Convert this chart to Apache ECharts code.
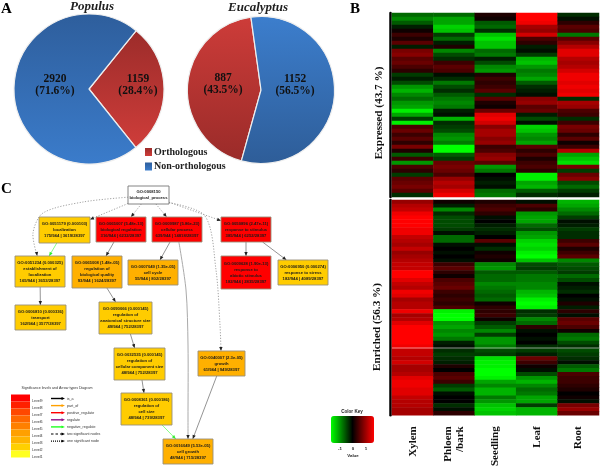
<!DOCTYPE html>
<html>
<head>
<meta charset="utf-8">
<style>html,body{margin:0;padding:0;background:#fff}#main{width:600px;height:469px}</style>
<script src="https://cdn.jsdelivr.net/npm/echarts@6/dist/echarts.min.js"></script>
</head>
<body>
<div id="main"></div>
<script>
// panel A
const pieNames = ["Orthologous", "Non-orthologous"];
const populusValues = [1159, 2920];
const eucalyptusValues = [887, 1152];

// panel B, one list per tissue, top row first
const tissues = ["Xylem", "Phloem\n/bark", "Seedling", "Leaf", "Root"];
const expressedXylem = [-0.7,-0.9,-0.6,-0.2,0.1,0.4,0.2,0.6,-0.2,0.8,0.9,0.6,0.7,0.5,0.3,-0.4,-0.2,-0.5,-1.0,-1.2,-0.9,-0.7,-1.0,-1.1,-1.6,-1.1,-0.4,-1.6,0.5,0.7,0.4,0.6,0.3,0.8,0.2,-0.6,0.4,-1.0,0.5,0.3,-0.4,0.6,0.7,0.8,0.6,-0.3];
const expressedPhloem = [-0.7,-1.1,-1.1,-1.4,-1.3,-0.4,-0.7,-0.2,0.2,-0.9,-0.5,-0.3,0.4,0.6,0.5,-0.1,-0.3,-0.8,-0.5,-0.3,-0.6,-0.8,-0.9,-0.8,-0.2,-0.1,-1.2,-0.3,-0.4,-0.5,-0.9,-1.0,-0.8,-1.7,-1.7,-0.6,-0.4,0.7,0.8,0.7,0.5,1.0,1.2,1.1,1.4,1.6];
const expressedSeedling = [0.2,0.1,-0.6,-0.7,-0.3,-1.3,-1.5,-1.3,-1.3,-0.7,-0.8,-0.2,-0.5,-0.9,-1.0,0.2,0.4,0.3,0.4,0.6,-0.3,0.6,0.2,0.1,0.7,1.5,1.6,1.4,0.9,1.1,1.1,0.9,1.0,0.4,0.5,0.9,1.0,0.6,-1.0,-0.8,0.0,-0.1,-0.2,-0.1,-0.7,-0.8];
const expressedLeaf = [1.7,1.7,1.6,1.1,1.0,1.4,0.5,0.3,-0.2,-0.1,-0.4,-1.2,-1.3,-1.0,-0.8,-0.9,-1.1,-0.6,-0.3,-0.2,-0.1,0.9,1.0,0.6,0.7,-0.2,-0.5,-0.1,-1.4,-1.3,-1.0,-0.9,-1.1,0.6,0.3,0.5,0.2,0.4,0.5,0.3,-1.6,-1.6,-1.1,-1.2,-0.6,-0.3];
const expressedRoot = [-0.3,-0.1,0.3,0.6,0.5,-0.8,0.6,0.9,1.2,1.5,1.5,1.2,1.1,1.2,1.4,1.6,1.6,1.5,1.6,1.5,1.6,-0.3,1.1,1.0,0.5,0.4,-0.3,0.4,0.8,0.7,0.3,0.6,0.1,0.4,1.2,-1.1,-1.3,-1.5,0.8,-0.4,0.7,0.9,-0.5,-0.7,-0.4,-0.2];

const enrichedXylem = [1.0,1.2,1.3,1.6,1.7,1.7,1.7,1.6,1.6,1.3,1.2,1.1,1.3,1.0,1.1,1.2,1.3,1.3,1.7,1.7,1.5,1.3,1.2,1.6,1.5,1.1,1.2,1.2,1.6,1.1,1.2,1.5,1.7,1.7,1.7,1.7,1.7,1.6,1.3,1.3,1.2,1.4,1.1,1.1,1.2,1.5,1.6,1.6,1.5,1.5,1.3,1.2,1.2,1.1,1.1];
const enrichedPhloem = [0.1,-0.2,-0.9,-0.3,-0.5,-0.5,-0.5,-0.4,-0.1,-0.7,-0.7,-0.1,0.0,-0.1,0.0,-0.1,0.4,0.6,0.3,0.1,0.5,0.6,0.7,0.4,0.3,0.4,0.3,0.5,-1.6,-1.7,-1.7,-1.0,-1.1,-0.9,-1.0,-0.8,-0.2,-0.1,-0.3,-0.4,-0.3,-0.2,0.2,0.0,0.5,0.6,0.4,-0.4,-0.6,-0.1,0.0,0.0,-0.3,-0.1,0.3];
const enrichedSeedling = [0.2,0.4,0.5,0.3,-0.1,0.0,-0.2,-0.3,-0.2,0.0,0.6,-0.1,-0.3,0.1,0.2,0.1,-0.9,-1.0,-0.6,-0.7,-0.7,-0.9,-0.8,-0.7,-0.6,-0.7,0.1,0.3,0.3,0.4,0.1,-0.4,-0.6,-0.9,-0.4,-1.0,-1.0,-0.8,-0.5,-0.4,-1.5,-1.6,-1.6,-1.7,-1.7,-1.6,-1.1,-0.9,-1.2,-1.2,-0.8,-1.0,-1.3,-1.4,-1.3];
const enrichedLeaf = [-0.1,0.5,0.3,-1.0,-1.1,-1.1,-0.7,-0.5,-1.0,-1.1,-1.4,-1.5,-1.4,-1.6,-1.7,-1.3,-0.5,-0.4,-0.6,-0.8,-0.8,-0.9,-0.9,-1.2,-1.3,-1.6,-1.7,-1.6,-0.3,-0.4,-0.9,-0.7,0.3,-0.1,0.0,-0.1,0.0,-0.3,-0.4,-0.2,0.7,0.4,0.1,-0.1,-0.5,-1.0,-1.2,-0.9,-0.7,-0.8,-1.1,-1.1,-0.4,-1.2,-1.2];
const enrichedRoot = [-1.2,-1.1,-0.9,-0.7,-0.4,-0.1,-0.2,-0.4,-0.3,-0.3,0.4,0.6,0.2,0.4,0.6,-0.9,-0.6,-0.5,-0.4,-0.7,-0.5,-0.1,-0.2,-0.3,0.0,-0.1,0.2,-0.2,0.3,-0.1,0.6,0.7,0.5,0.1,-0.7,-0.8,-0.5,-0.3,-0.5,-0.4,-0.3,-0.1,-0.6,-0.8,0.5,0.4,0.4,0.3,0.2,0.0,0.1,-0.1,0.8,1.0,0.7];

// panel C
const goTerms = {
  root: "GO:0008150\nbiological_process",
  localization: "GO:0051179 (0.000103)\nlocalization\n175/944 | 3619/28397",
  bioReg: "GO:0065007 (5.48e-13)\nbiological regulation\n316/944 | 6232/28397",
  cellular: "GO:0009987 (5.86e-23)\ncellular process\n639/944 | 14818/28397",
  stimulus: "GO:0050896 (2.47e-11)\nresponse to stimulus\n385/944 | 6252/28397",
  establish: "GO:0051234 (0.000325)\nestablishment of\nlocalization\n165/944 | 3653/28397",
  bioQuality: "GO:0065008 (1.48e-05)\nregulation of\nbiological quality\n93/944 | 1624/28397",
  cellCycle: "GO:0007049 (1.35e-05)\ncell cycle\n55/944 | 802/28397",
  abiotic: "GO:0009628 (1.90e-13)\nresponse to\nabiotic stimulus\n182/944 | 2835/28397",
  stress: "GO:0006950 (0.000274)\nresponse to stress\n182/944 | 4089/28397",
  transport: "GO:0006810 (0.000336)\ntransport\n162/944 | 3577/28397",
  anatomical: "GO:0090066 (0.000145)\nregulation of\nanatomical structure size\n49/944 | 752/28397",
  component: "GO:0032535 (0.000145)\nregulation of\ncellular component size\n48/944 | 752/28397",
  cellSize: "GO:0008361 (0.000186)\nregulation of\ncell size\n48/944 | 739/28397",
  growth: "GO:0040007 (2.3e-05)\ngrowth\n61/944 | 949/28397",
  cellGrowth: "GO:0016049 (5.53e-05)\ncell growth\n48/944 | 715/28397",
};
const goLinks = [
  ["root", "localization", "dotted"], ["root", "bioReg", "dotted"], ["root", "cellular", "dotted"],
  ["root", "stimulus", "dotted"], ["root", "establish", "dotted"], ["root", "growth", "dotted"],
  ["localization", "establish", "green"], ["bioReg", "bioQuality", "solid"], ["cellular", "cellCycle", "solid"],
  ["cellular", "cellGrowth", "grey"], ["stimulus", "abiotic", "solid"], ["stimulus", "stress", "solid"],
  ["establish", "transport", "solid"], ["bioQuality", "anatomical", "solid"], ["anatomical", "component", "solid"],
  ["component", "cellSize", "solid"], ["cellSize", "cellGrowth", "green"], ["growth", "cellGrowth", "solid"],
];
const levelNames = ["Level9","Level8","Level7","Level6","Level5","Level4","Level3","Level2","Level1"];
const arrowKinds = ["is_a","part_of","positive_regulate","regulate","negative_regulate","two significant nodes","one significant node"];

// layout of the diagram, in page pixels
const nodeBoxes = {
  root: [128,186,169,204], localization: [39,217,90,243], bioReg: [96,217,146,242], cellular: [152,217,202,242],
  stimulus: [221,217,271,242], establish: [15,256,65,287], bioQuality: [72,256,122,288], cellCycle: [128,260,178,285],
  abiotic: [221,256,271,289], stress: [278,260,328,285], transport: [15,305,66,330], anatomical: [99,302,152,334],
  component: [114,348,165,380], cellSize: [121,393,172,425], growth: [198,351,245,376], cellGrowth: [163,439,213,464],
};
const nodeFills = {
  root: "#fff", localization: "#ffcc00", bioReg: "#ff0000", cellular: "#ff0000", stimulus: "#ff0000",
  establish: "#ffcc00", bioQuality: "#ffb000", cellCycle: "#ffb000", abiotic: "#ff0000", stress: "#ffcc00",
  transport: "#ffcc00", anatomical: "#ffcc00", component: "#ffcc00", cellSize: "#ffcc00", growth: "#ffb000", cellGrowth: "#ffb000",
};
const linkBends = {
  "root-establish": [[83,202],[43,213],[33,233]],
  "root-growth": [[205,216],[216,270],[220,325]],
  "cellular-cellGrowth": [[186,290],[188,345],[188,420]],
};
const linkStyles = {
  dotted: { stroke: "#8a8a8a", lineWidth: 0.8, lineDash: [1.2, 1.6] },
  solid: { stroke: "#666", lineWidth: 0.7 },
  green: { stroke: "#66ff66", lineWidth: 0.8 },
  grey: { stroke: "#aaa", lineWidth: 1 },
};
const levelFills = ["#ff0000","#ff2000","#ff4800","#ff6800","#ff8000","#ffa000","#ffb400","#ffd000","#ffff20"];
const keyStyles = [
  { stroke: "#000", lineWidth: 1.4 }, { stroke: "#ffa000", lineWidth: 1.4 }, { stroke: "#ff0000", lineWidth: 1.4 },
  { stroke: "#90108c", lineWidth: 1.4 }, { stroke: "#22ff22", lineWidth: 1.4 },
  { stroke: "#000", lineWidth: 1.2, lineDash: [2.5, 2] }, { stroke: "#000", lineWidth: 1.2, lineDash: [1, 1] },
];

const SERIF = '"Liberation Serif", serif';
const SANS = '"Liberation Sans", sans-serif';

const vGrad = (top, bottom) => ({ type: "linear", x: 0, y: 0, x2: 0, y2: 1, colorStops: [{ offset: 0, color: top }, { offset: 1, color: bottom }] });

const centerOf = (b) => [(b[0] + b[2]) / 2, (b[1] + b[3]) / 2];
// where the line from a box centre towards p leaves the box
function leaveBox(b, p) {
  const c = centerOf(b), dx = p[0] - c[0], dy = p[1] - c[1];
  const t = Math.min(dx ? (b[2] - b[0]) / 2 / Math.abs(dx) : 9, dy ? (b[3] - b[1]) / 2 / Math.abs(dy) : 9);
  return [c[0] + dx * t, c[1] + dy * t];
}
function arrowHead(to, from, size, fill) {
  const a = Math.atan2(to[1] - from[1], to[0] - from[0]);
  const w = size * 0.42;
  const bx = to[0] - Math.cos(a) * size, by = to[1] - Math.sin(a) * size;
  return { type: "polygon", shape: { points: [to, [bx - Math.sin(a) * w, by + Math.cos(a) * w], [bx + Math.sin(a) * w, by - Math.cos(a) * w]] }, style: { fill } };
}

function renderLink(params, api) {
  const [from, to, kind] = goLinks[params.dataIndex];
  const bends = linkBends[from + "-" + to] || [];
  const a = nodeBoxes[from], b = nodeBoxes[to];
  const start = leaveBox(a, bends[0] || centerOf(b));
  const end = leaveBox(b, bends.length ? bends[bends.length - 1] : centerOf(a));
  const pts = [start, ...bends, end].map((p) => api.coord(p));
  const last = pts[pts.length - 2];
  return {
    type: "group",
    children: [
      { type: "polyline", shape: { points: pts, smooth: bends.length ? 0.3 : 0 }, style: { ...linkStyles[kind], fill: null } },
      arrowHead(pts[pts.length - 1], last, 4, kind === "green" ? "#33ee33" : "#222"),
    ],
  };
}

function renderNode(params, api) {
  const id = Object.keys(goTerms)[params.dataIndex];
  const b = nodeBoxes[id];
  const p0 = api.coord([b[0], b[1]]), p1 = api.coord([b[2], b[3]]);
  return {
    type: "group",
    children: [
      { type: "rect", shape: { x: p0[0], y: p0[1], width: p1[0] - p0[0], height: p1[1] - p0[1] }, style: { fill: nodeFills[id], stroke: id === "root" ? "#777" : "#99907a", lineWidth: 0.9 } },
      { type: "text", style: { text: goTerms[id], x: (p0[0] + p1[0]) / 2, y: (p0[1] + p1[1]) / 2, align: "center", verticalAlign: "middle", font: "bold 4.2px " + SANS, lineHeight: 5.9, fill: "#1a1a1a" } },
    ],
  };
}

function renderLevel(params, api) {
  const p0 = api.coord([11, 394.5 + 7 * params.dataIndex]), p1 = api.coord([30, 401.5 + 7 * params.dataIndex]);
  return {
    type: "group",
    children: [
      { type: "rect", shape: { x: p0[0], y: p0[1], width: p1[0] - p0[0], height: p1[1] - p0[1] }, style: { fill: levelFills[params.dataIndex] } },
      { type: "text", style: { text: levelNames[params.dataIndex], x: p1[0] + 2, y: p1[1] - 0.5, verticalAlign: "middle", font: "3.6px " + SANS, fill: "#333" } },
    ],
  };
}

function renderKey(params, api) {
  const i = params.dataIndex;
  const y = 398.5 + 7.1 * i;
  const a = api.coord([51, y]), b = api.coord([65, y]);
  const st = keyStyles[i];
  return {
    type: "group",
    children: [
      { type: "line", shape: { x1: a[0], y1: a[1], x2: b[0] - 2, y2: b[1] }, style: st },
      arrowHead(b, a, 3.5, st.stroke),
      { type: "text", style: { text: arrowKinds[i], x: b[0] + 2, y: b[1], verticalAlign: "middle", font: "3.6px " + SANS, fill: "#333" } },
    ],
  };
}

const heatCells = (cols) => cols.flatMap((col, x) => col.map((v, y) => [x, y, v]));
const rowIndex = (n) => Array.from({ length: n }, (_, i) => i);

const expressed = [expressedXylem, expressedPhloem, expressedSeedling, expressedLeaf, expressedRoot];
const enriched = [enrichedXylem, enrichedPhloem, enrichedSeedling, enrichedLeaf, enrichedRoot];

const option = {
  animation: false,
  backgroundColor: "#fff",
  title: [
    { text: "Populus", left: 92, top: 0, textAlign: "center", padding: 0, textStyle: { fontFamily: SERIF, fontStyle: "italic", fontWeight: "bold", fontSize: 13, color: "#222" } },
    { text: "Eucalyptus", left: 258, top: 1, textAlign: "center", padding: 0, textStyle: { fontFamily: SERIF, fontStyle: "italic", fontWeight: "bold", fontSize: 13, color: "#222" } },
    { text: "A", left: 1, top: 2, padding: 0, textStyle: { fontFamily: SERIF, fontWeight: "bold", fontSize: 15, color: "#000" } },
    { text: "B", left: 350, top: 2, padding: 0, textStyle: { fontFamily: SERIF, fontWeight: "bold", fontSize: 15, color: "#000" } },
    { text: "C", left: 1, top: 182, padding: 0, textStyle: { fontFamily: SERIF, fontWeight: "bold", fontSize: 15, color: "#000" } },
  ],
  legend: {
    data: pieNames, orient: "vertical", left: 145, top: 147, padding: 0,
    icon: "rect", itemWidth: 7, itemHeight: 8, itemGap: 4.5, selectedMode: false,
    itemStyle: { borderWidth: 0 },
    textStyle: { fontFamily: SERIF, fontWeight: "bold", fontSize: 10, color: "#222", padding: [0, 0, 0, -3] },
  },
  visualMap: {
    type: "continuous", min: -1.7, max: 1.7, seriesIndex: [2, 3], orient: "horizontal",
    left: 331, top: 416, itemWidth: 27, itemHeight: 43, padding: 0, text: null, calculable: false, hoverLink: false,
    textStyle: { fontSize: 0 }, formatter: () => "",
    inRange: { color: ["#00ff00", "#000000", "#ff0000"] },
  },
  grid: [
    { left: 392, top: 13, width: 207, height: 184 },
    { left: 392, top: 200, width: 207, height: 220 },
    { left: 0, top: 0, width: 600, height: 469 },
  ],
  xAxis: [
    { gridIndex: 0, type: "category", data: tissues, show: false },
    {
      gridIndex: 1, type: "category", data: tissues,
      axisLine: { show: false }, axisTick: { show: false },
      axisLabel: { interval: 0, rotate: 90, margin: 11, fontFamily: SERIF, fontWeight: "bold", fontSize: 11, lineHeight: 12, color: "#111" },
    },
    { gridIndex: 2, type: "value", min: 0, max: 600, show: false },
  ],
  yAxis: [
    { gridIndex: 0, type: "category", inverse: true, data: rowIndex(46), offset: 2, axisLine: { lineStyle: { color: "#000", width: 2.5 } }, axisTick: { show: false }, axisLabel: { show: false } },
    { gridIndex: 1, type: "category", inverse: true, data: rowIndex(55), offset: 2, axisLine: { lineStyle: { color: "#000", width: 2.5 } }, axisTick: { show: false }, axisLabel: { show: false } },
    { gridIndex: 2, type: "value", inverse: true, min: 0, max: 469, show: false },
  ],
  series: [
    {
      name: "Populus", type: "pie", center: [89, 89], radius: 75, startAngle: 51, percentPrecision: 1, silent: true,
      data: pieNames.map((name, i) => ({ name, value: populusValues[i], itemStyle: { color: i ? vGrad("#2e5e9c", "#3b7ccb") : vGrad("#9c2c2a", "#cf3d3a") } })),
      itemStyle: { borderColor: "#eee", borderWidth: 1.2 },
      label: { position: "inside", formatter: "{c}\n({d}%)", fontFamily: SERIF, fontWeight: "bold", fontSize: 11.5, lineHeight: 12, color: "#111" },
      labelLine: { show: false },
      labelLayout: (p) => ({ dx: [8.5, 6.5][p.dataIndex], dy: -4 }),
    },
    {
      name: "Eucalyptus", type: "pie", center: [261, 90], radius: 73.5, startAngle: 254.5, percentPrecision: 1, silent: true,
      data: pieNames.map((name, i) => ({ name, value: eucalyptusValues[i], itemStyle: { color: i ? vGrad("#3c7ecd", "#2e5d98") : vGrad("#cd3c39", "#9a2b29") } })),
      itemStyle: { borderColor: "#eee", borderWidth: 1.2 },
      label: { position: "inside", formatter: "{c}\n({d}%)", fontFamily: SERIF, fontWeight: "bold", fontSize: 11.5, lineHeight: 12, color: "#111" },
      labelLine: { show: false },
      labelLayout: (p) => ({ dx: [1.7, -5.6][p.dataIndex], dy: [-2.9, -7.8][p.dataIndex] }),
    },
    { name: "Expressed", type: "heatmap", xAxisIndex: 0, yAxisIndex: 0, data: heatCells(expressed), silent: true },
    { name: "Enriched", type: "heatmap", xAxisIndex: 1, yAxisIndex: 1, data: heatCells(enriched), silent: true },
    { name: "links", type: "custom", xAxisIndex: 2, yAxisIndex: 2, clip: false, silent: true, data: goLinks.map((_, i) => [i]), renderItem: renderLink, z: 3 },
    { name: "terms", type: "custom", xAxisIndex: 2, yAxisIndex: 2, clip: false, silent: true, data: Object.keys(goTerms).map((_, i) => [i]), renderItem: renderNode, z: 4 },
    { name: "levels", type: "custom", xAxisIndex: 2, yAxisIndex: 2, clip: false, silent: true, data: levelNames.map((_, i) => [i]), renderItem: renderLevel, z: 4 },
    { name: "arrow types", type: "custom", xAxisIndex: 2, yAxisIndex: 2, clip: false, silent: true, data: arrowKinds.map((_, i) => [i]), renderItem: renderKey, z: 4 },
  ],
  graphic: [
    { type: "text", x: 379, y: 113, rotation: Math.PI / 2, style: { text: "Expressed (43.7 %)", align: "center", verticalAlign: "middle", font: 'bold 11.2px ' + SERIF, fill: "#111" } },
    { type: "text", x: 377, y: 327, rotation: Math.PI / 2, style: { text: "Enriched (56.3 %)", align: "center", verticalAlign: "middle", font: 'bold 11.2px ' + SERIF, fill: "#111" } },
    { type: "rect", shape: { x: 392, y: 347, width: 207, height: 2 }, style: { fill: "rgba(255,255,255,0.28)" }, z: 10 },
    { type: "text", x: 352, y: 412, style: { text: "Color Key", align: "center", verticalAlign: "middle", font: "bold 4.6px " + SANS, fill: "#222" } },
    { type: "text", x: 340, y: 449, style: { text: "-1", align: "center", verticalAlign: "middle", font: "bold 4.4px " + SANS, fill: "#222" } },
    { type: "text", x: 353, y: 449, style: { text: "0", align: "center", verticalAlign: "middle", font: "bold 4.4px " + SANS, fill: "#222" } },
    { type: "text", x: 366, y: 449, style: { text: "1", align: "center", verticalAlign: "middle", font: "bold 4.4px " + SANS, fill: "#222" } },
    { type: "text", x: 353, y: 456, style: { text: "Value", align: "center", verticalAlign: "middle", font: "bold 4.4px " + SANS, fill: "#222" } },
    { type: "text", x: 57, y: 388, style: { text: "Significance levels and Arrow types Diagram", align: "center", verticalAlign: "middle", font: "3.6px " + SANS, fill: "#333" } },
  ],
};

const chart = echarts.init(document.getElementById("main"), null, { renderer: "canvas" });
chart.setOption(option);
</script>
</body>
</html>
